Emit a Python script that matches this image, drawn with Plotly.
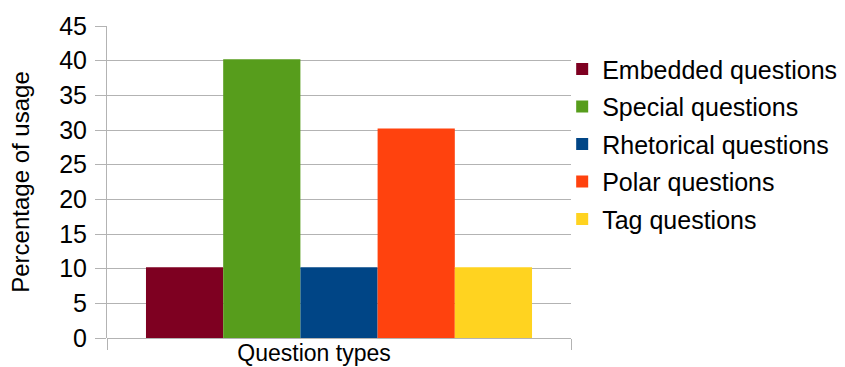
import plotly.graph_objects as go

# Share of each question type (percent)
categories = ["Question types"]
series_names = ["Embedded questions", "Special questions", "Rhetorical questions",
                "Polar questions", "Tag questions"]
series_values = [10.2, 40.2, 10.2, 30.2, 10.2]
series_colors = ["#7e0021", "#579d1c", "#004586", "#ff420e", "#ffd320"]
y_ticks = [0, 5, 10, 15, 20, 25, 30, 35, 40, 45]

fig = go.Figure()
for i, (name, val, col) in enumerate(zip(series_names, series_values, series_colors)):
    fig.add_trace(go.Bar(
        x=categories, y=[val], name=name, marker_color=col,
        marker_line_width=0, legendgroup=f"g{i}",
    ))

grid = "#b3b3b3"
fig.update_layout(
    width=845, height=367,
    margin=dict(l=107, r=274, t=26, b=29, autoexpand=False),
    paper_bgcolor="white", plot_bgcolor="white",
    barmode="group", bargap=0.168, bargroupgap=0,
    font=dict(family="Liberation Sans, Arial, sans-serif", size=25, color="black"),
    legend=dict(
        x=0.981, xanchor="left", y=0.935, yanchor="top",
        font=dict(size=25), tracegroupgap=2, traceorder="grouped",
        bgcolor="rgba(0,0,0,0)",
    ),
    xaxis=dict(
        showgrid=True, gridcolor=grid, gridwidth=1,
        tickson="boundaries", ticks="outside", ticklen=11, tickcolor=grid,
        showline=False, zeroline=False, automargin=False,
        tickfont=dict(size=23), ticklabelshift=-25, ticklabelstandoff=-1,
    ),
    yaxis=dict(
        range=[0, 45], tickvals=y_ticks,
        showgrid=True, gridcolor=grid, gridwidth=1,
        ticks="outside", ticklen=11, tickcolor=grid,
        showline=True, linecolor=grid, linewidth=1,
        zeroline=True, zerolinecolor=grid, zerolinewidth=1,
        tickfont=dict(size=25), ticklabelstandoff=3, automargin=False,
        title=dict(text="Percentage of usage", font=dict(size=24), standoff=22),
    ),
)

fig.write_html("out.html")
